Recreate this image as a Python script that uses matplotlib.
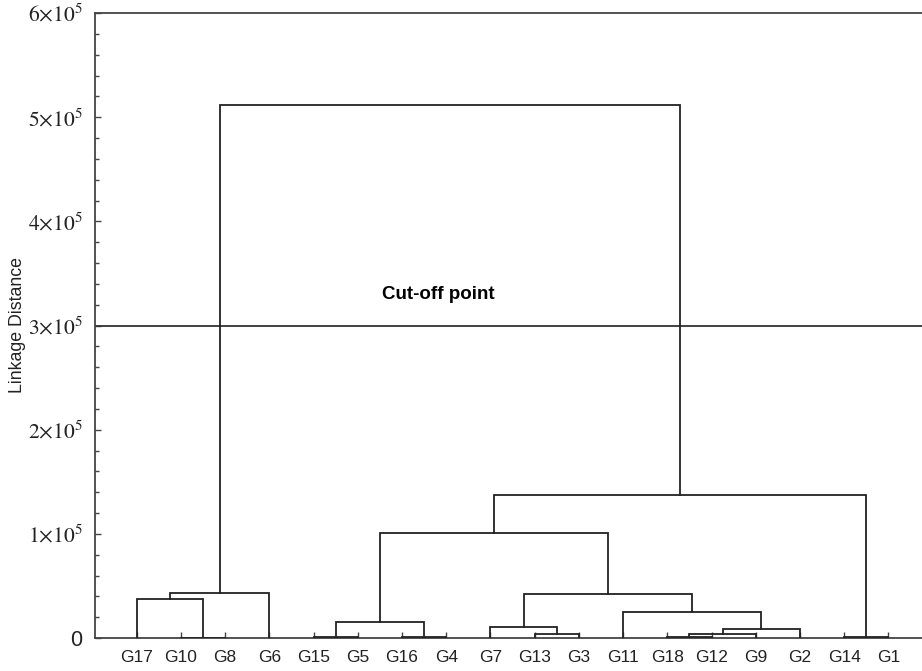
import numpy as np
import matplotlib
matplotlib.use("Agg")
import matplotlib.pyplot as plt
from matplotlib.ticker import MultipleLocator, FuncFormatter

plt.rcParams['font.family'] = ['Liberation Sans', 'DejaVu Sans']
plt.rcParams['mathtext.fontset'] = 'stix'

# leaf order along the x axis
leaves = ['G17', 'G10', 'G8', 'G6', 'G15', 'G5', 'G16', 'G4', 'G7',
          'G13', 'G3', 'G11', 'G18', 'G12', 'G9', 'G2', 'G14', 'G1']

# merges: left child, right child (leaf name or index of earlier merge), height
merge_left = ['G10', 'G17', 1, 'G15', 'G16', 3, 'G13', 'G7', 'G18', 8,
              9, 'G11', 7, 5, 'G14', 13, 2]
merge_right = ['G8', 0, 'G6', 'G5', 'G4', 4, 'G3', 6, 'G12', 'G9',
               'G2', 10, 11, 12, 'G1', 14, 15]
merge_height = [300, 37400, 43500, 1200, 1200, 15600, 3800, 10800, 1200, 3800,
                8600, 24500, 42500, 100800, 1200, 137300, 511700]

cutoff = 3e5
cutoff_label = 'Cut-off point'

fig = plt.figure(figsize=(9.22, 6.71), dpi=100)
ax = fig.add_axes([95 / 922, 33 / 671, 1 - 95 / 922, 625 / 671])

leaf_x = {name: i + 1 for i, name in enumerate(leaves)}
node_x = []


def child_pos(c):
    if isinstance(c, str):
        return leaf_x[c], 0.0
    return node_x[c], merge_height[c]


for l, r, h in zip(merge_left, merge_right, merge_height):
    xl, hl = child_pos(l)
    xr, hr = child_pos(r)
    ax.plot([xl, xl, xr, xr], [hl, h, h, hr], color='#222222', lw=1.3,
            solid_joinstyle='miter', zorder=3)
    node_x.append((xl + xr) / 2)

ax.axhline(cutoff, color='#333333', lw=1.3, zorder=2)
ax.text(6.55, 3.3e5, cutoff_label, fontsize=13.5, fontweight='bold',
        ha='left', va='center')

ax.set_xlim(0.057, 18.76)
ax.set_ylim(0, 6e5)
ax.set_xticks(range(1, len(leaves) + 1))
ax.set_xticklabels(leaves, fontsize=12.5)
ax.yaxis.set_major_locator(MultipleLocator(1e5))
ax.yaxis.set_minor_locator(MultipleLocator(2e4))


def sci(v, pos):
    n = int(round(v / 1e5))
    if n == 0:
        return '0'
    return r'$%d{\times}10^{5}$' % n


ax.yaxis.set_major_formatter(FuncFormatter(sci))
ax.tick_params(axis='y', which='major', direction='in', length=4, width=1,
               labelsize=15.5, pad=9, colors='#444444', labelcolor='#222222')
ax.tick_params(axis='y', which='minor', direction='in', length=3, width=1,
               colors='#444444')
ax.tick_params(axis='x', direction='in', length=4, width=1, pad=9,
               colors='#444444', labelcolor='#222222')

for s in ['left', 'bottom', 'top']:
    ax.spines[s].set_color('#444444')
    ax.spines[s].set_linewidth(1.3)
ax.spines['right'].set_visible(False)

fig.text(18 / 922, 1 - 325 / 671, 'Linkage Distance', rotation=90,
         fontsize=12.8, ha='center', va='center', color='#222222')

fig.savefig('out.png', dpi=100)
